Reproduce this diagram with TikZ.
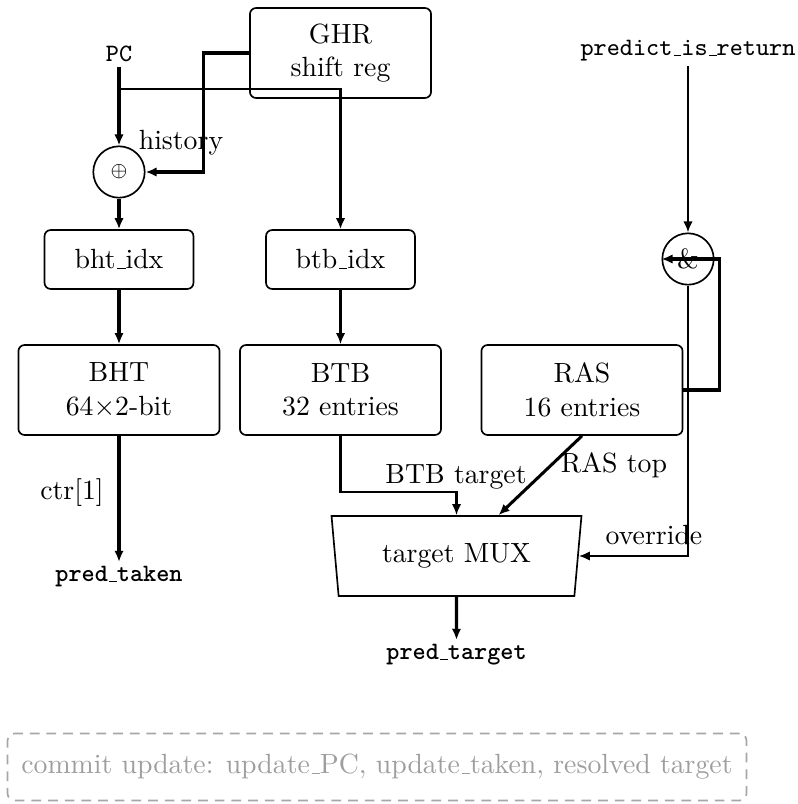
\documentclass[tikz,border=0pt]{standalone}
\usetikzlibrary{arrows.meta,shapes.geometric,calc}
\newcommand{\us}{\leavevmode\kern.06em\vbox{\hrule width.3em}}
\begin{document}
\begin{tikzpicture}[x=0.36pt,y=-0.36pt,
  box/.style={draw,rounded corners=2.2pt,line width=0.6pt,align=center,inner sep=0pt,minimum width=72.4pt,minimum height=32.4pt},
  idxbox/.style={draw,rounded corners=2.2pt,line width=0.6pt,inner sep=0pt,minimum width=53.6pt,minimum height=21.2pt},
  circ/.style={draw,circle,minimum size=18.5pt,inner sep=0pt,line width=0.6pt},
  thk/.style={line width=1.1pt,-{Latex[length=4pt,width=3.4pt]}},
  mid/.style={line width=0.9pt,-{Latex[length=4pt,width=3.4pt]}},
  thn/.style={line width=0.75pt,-{Latex[length=4pt,width=3.4pt]}},
  lbl/.style={inner sep=0pt},
  sig/.style={font=\small\ttfamily,inner sep=1.5pt}]
\useasboundingbox (0,0) rectangle (797,804);

% nodes
\node[box,minimum width=65.2pt] (ghr) at (340.5,53) {GHR\\shift reg};
\node[sig] (pc) at (119,54) {PC};
\node[sig] (pir) at (688,51) {predict\us is\us return};
\node[circ] (xor) at (119,172) {\scriptsize$\oplus$};
\node[lbl] (hist) at (181,143) {history};
\node[idxbox] (bhtidx) at (119,259.5) {bht\us idx};
\node[idxbox] (btbidx) at (340.5,259.5) {btb\us idx};
\node[circ] (and) at (688,259) {\&};
\node[box] (bht) at (119,390) {BHT\\64$\times$2-bit};
\node[box] (btb) at (340.5,390) {BTB\\32 entries};
\node[box] (ras) at (582,390) {RAS\\16 entries};
\node[lbl] (ctr) at (72,493) {ctr[1]};
\node[sig,font=\small\ttfamily\bfseries] (ptaken) at (119,577) {pred\us taken};
\node[draw,trapezium,trapezium left angle=100.3,trapezium right angle=100.3,trapezium stretches=true,
      minimum width=90.4pt,minimum height=28.8pt,line width=0.6pt,inner sep=0pt] (mux) at (456.5,556) {target MUX};
\node[lbl] (btbt) at (456,477) {BTB target};
\node[lbl] (rast) at (614,465) {RAS top};
\node[lbl] (ovr) at (654,535) {override};
\node[sig,font=\small\ttfamily\bfseries] (ptarget) at (456.5,655) {pred\us target};
\node[draw=black!35,text=black!38,dash pattern=on 3.5pt off 2.5pt,rounded corners=2.5pt,line width=0.6pt,
      minimum width=266pt,minimum height=24.1pt,inner sep=1pt] (commit) at (377,767)
      {commit update: update\us PC, update\us taken, resolved target};

% connectors
\coordinate (pcb) at (119,89);
\draw[thk] (pc.south) -- (xor.north);
\draw[mid] (pcb) -| (btbidx.north);
\draw[thk] (ghr.west) -- ($(ghr.west)+(-46,0)$) |- (xor.east);
\draw[thk] (xor.south) -- (bhtidx.north);
\draw[thk] (bhtidx.south) -- (bht.north);
\draw[thn] (btbidx.south) -- (btb.north);
\draw[line width=1.3pt,-{Latex[length=4pt,width=3.4pt]}] (bht.south) -- (ptaken.north);
\draw[thn] (btb.south) -- ($(btb.south)+(0,56)$) -| (mux.north);
\draw[thk] (ras.south) -- ($(mux.north)+(42,0)$);
\draw[thk] (mux.south) -- (ptarget.north);
\draw[thn] (pir.south) -- (and.north);
\draw[thk] (ras.east) -- ($(ras.east)+(36,0)$) |- (and.west);
\draw[thn] (and.south) |- (mux.east);
\end{tikzpicture}
\end{document}
